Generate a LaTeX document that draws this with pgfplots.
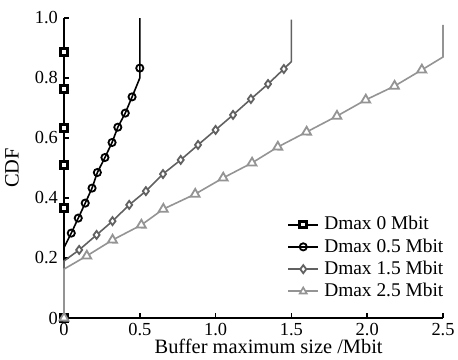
\documentclass[border=0pt]{standalone}
\usepackage{pgfplots}
\pgfplotsset{compat=1.18}
\usepackage{fontspec}
\setmainfont{Liberation Serif}
\definecolor{c3}{gray}{0.38}
\definecolor{c4}{gray}{0.58}
\begin{document}
\begin{tikzpicture}
\begin{axis}[
  at={(0pt,0pt)}, anchor=south west,
  scale only axis, width=189.5pt, height=150pt,
  xmin=0, xmax=2.5, ymin=0, ymax=1,
  axis x line*=bottom, axis y line*=left,
  axis line style={-, line width=0.9pt},
  tick align=inside, major tick length=2.5pt,
  tick style={line width=0.8pt, black},
  xtick={0,0.5,1,1.5,2,2.5}, xticklabels={0,0.5,1.0,1.5,2.0,2.5},
  ytick={0,0.2,0.4,0.6,0.8,1}, yticklabels={0,0.2,0.4,0.6,0.8,1.0},
  ticklabel style={font=\fontsize{9.2}{10}\selectfont},
  xticklabel style={yshift=1pt},
  yticklabel style={xshift=0.5pt},
  clip=false,
  xlabel={Buffer maximum size /Mbit},
  ylabel={CDF},
  label style={font=\fontsize{10.2}{12}\selectfont},
  xlabel style={at={(axis description cs:0.54,0)}, anchor=center, yshift=-14pt},
  ylabel style={at={(axis description cs:-0.137,0.5)}, anchor=center, rotate=0},
  legend style={at={(axis cs:1.47,0.05)}, anchor=south west, draw=none, fill=none,
    inner sep=0pt, row sep=0pt, column sep=1.5pt, font=\fontsize{9.7}{11}\selectfont,
    nodes={inner sep=1pt, text height=7.2pt, text depth=1.95pt}},
  legend cell align=left,
  legend image code/.code={\draw[mark indices={2}, line width=1pt] plot coordinates {(0pt,0pt) (7.5pt,0pt) (15pt,0pt)};},
]
% Dmax 0
\addplot[black, line width=0.8pt, mark=square*, mark size=1.7pt,
  mark options={fill=white, line width=1.5pt, solid},
  mark indices={1,2,3,4,5,6}]
  coordinates {(0,0) (0,0.367) (0,0.51) (0,0.633) (0,0.763) (0,0.887) (0,1.0)};
\addlegendentry{Dmax 0 Mbit}
% Dmax 0.5
\addplot[black, line width=0.8pt, mark=o, mark size=1.8pt,
  mark options={line width=0.9pt, solid, fill=white},
  mark indices={3,4,5,6,7,8,9,10,11,12,15}]
  coordinates {(0,0) (0,0.235) (0.048,0.283) (0.094,0.333) (0.14,0.383) (0.185,0.433)
   (0.22,0.485) (0.27,0.535) (0.317,0.585) (0.355,0.636) (0.404,0.683) (0.449,0.737)
   (0.48,0.775) (0.5,0.80) (0.5,0.833) (0.5,1.0)};
\addlegendentry{Dmax 0.5 Mbit}
% Dmax 1.5
\addplot[c3, line width=0.8pt, mark=diamond*, mark size=2pt,
  mark options={line width=0.9pt, solid, fill=white, draw=c3},
  mark indices={3,4,5,6,7,8,9,10,11,12,13,14,15}]
  coordinates {(0,0) (0,0.19) (0.1,0.227) (0.215,0.277) (0.32,0.323) (0.43,0.377)
   (0.54,0.423) (0.653,0.48) (0.77,0.527) (0.884,0.577) (1.0,0.627) (1.115,0.677)
   (1.233,0.73) (1.346,0.78) (1.45,0.83) (1.5,0.855) (1.5,0.995)};
\addlegendentry{Dmax 1.5 Mbit}
% Dmax 2.5
\addplot[c4, line width=0.8pt, mark=triangle*, mark size=2.6pt,
  mark options={line width=0.9pt, solid, fill=white, draw=c4, rotate=119},
  mark indices={1,3,4,5,6,7,8,9,10,11,12,13,14,15},
  legend image post style={mark options={line width=0.8pt, solid, fill=white, draw=c4, rotate=0}, mark size=2pt}]
  coordinates {(0,0) (0,0.163) (0.15,0.207) (0.32,0.26) (0.51,0.31) (0.655,0.363)
   (0.865,0.413) (1.05,0.467) (1.24,0.517) (1.41,0.57) (1.6,0.62) (1.8,0.673)
   (1.99,0.727) (2.18,0.773) (2.36,0.827) (2.5,0.87) (2.5,0.977)};
\addlegendentry{Dmax 2.5 Mbit}
\end{axis}
\pgfresetboundingbox
\useasboundingbox (-32pt,-20.5pt) rectangle (197pt,159pt);
\end{tikzpicture}
\end{document}
